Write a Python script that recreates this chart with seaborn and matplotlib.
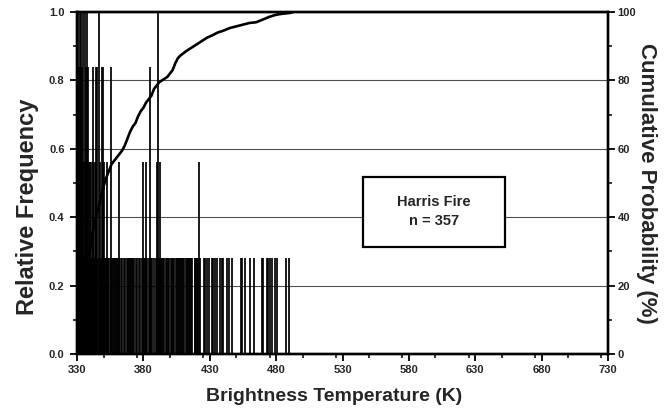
import numpy as np
import pandas as pd
import matplotlib
matplotlib.use("Agg")
import matplotlib.pyplot as plt
import seaborn as sns
from matplotlib.patches import Rectangle
from matplotlib.ticker import MultipleLocator, FormatStrFormatter

# ---------------- data ----------------
N_FIRES = 357

# temperatures (K) observed once (relative frequency 1/357)
single_temps = [
    330.6, 331.2, 332.0, 332.9, 333.5, 334.2, 335.0, 335.7, 336.5, 337.1, 337.9,
    338.6, 339.3, 340.1, 340.7, 341.4, 342.3, 342.9, 343.6, 344.5, 345.0,
    346.9, 347.6, 348.2, 349.0, 349.9, 350.6, 351.3, 352.1, 352.8, 353.5, 354.2,
    355.8, 356.4, 357.1, 357.9, 358.6, 359.3, 360.0, 360.8, 361.5, 363.3, 364.0,
    365.4, 366.0, 367.8, 368.5, 369.2, 370.0, 370.7, 371.4, 372.2, 372.9, 374.6,
    375.3, 376.8, 377.4, 378.9, 379.5, 380.3, 381.0, 381.7, 382.5, 384.4, 385.0,
    385.8, 386.6, 388.1, 389.6, 390.3, 391.2, 391.9, 392.7, 393.4, 394.1, 394.9,
    395.6, 397.1, 397.8, 398.5, 399.2, 400.9, 401.6, 402.4, 403.1, 404.6,
    405.3, 406.0, 406.8, 407.5, 408.3, 409.1, 409.8, 410.6, 412.2, 412.9, 413.7,
    414.4, 415.2, 416.0, 416.7, 418.5, 419.2, 420.0, 420.7, 421.5, 422.4, 425.9,
    426.6, 428.0, 429.3,
    431.5, 432.7, 434.0, 435.2, 437.7, 439.0, 440.2, 443.2, 444.7, 447.0, 453.3,
    454.0, 456.4, 460.3, 463.3, 469.1, 470.3, 472.9, 474.1, 475.4, 476.6, 479.1,
    480.4, 487.4, 489.9,
]
# temperatures observed twice
double_temps = [
    331.5, 332.6, 334.1, 335.3, 336.8, 337.8, 338.7, 339.8, 340.9, 342.1, 343.2,
    344.0, 347.3, 349.8, 350.3, 352.6, 361.8, 379.9, 382.0, 390.0, 392.5, 422.1,
]
# temperatures observed three times
triple_temps = [
    330.9, 332.4, 333.7, 336.4, 338.3, 341.7, 344.3, 345.1, 348.5, 349.6, 355.6,
    385.3,
]
# temperatures observed four or more times (clipped at the top of the axis)
tall_temps = [330.4, 331.9, 333.0, 334.5, 336.0, 337.5, 346.6, 391.0]
tall_counts = [5, 4, 5, 4, 4, 4, 4, 4]

# cumulative probability curve (K, %)
cdf_temps = [
    330.5, 332, 334, 336, 338, 340, 342, 344, 346, 348, 350, 352, 354, 356, 358,
    360, 362, 364, 366, 368, 370, 372, 374, 376, 378, 380, 382, 384, 386, 388,
    390, 392, 394, 396, 398, 400, 402, 404, 406, 408, 412, 416, 420, 424, 428,
    432, 436, 440, 445, 450, 455, 460, 465, 470, 475, 480, 485, 490, 493,
]
cdf_percent = [
    0.5, 4, 11, 19, 26, 31, 36, 39.5, 42.5, 46, 49, 51.5, 53.5, 55.5, 56.5,
    57.5, 58.5, 59.5, 61, 63, 65, 66.5, 67.5, 69.5, 71, 72, 73.5, 74.5, 75.5, 77.5,
    78.5, 79.5, 80, 80.5, 81, 82, 83, 85, 86.5, 87.3, 88.5, 89.5, 90.5, 91.5, 92.5,
    93.2, 94, 94.5, 95.3, 95.8, 96.3, 96.8, 97, 97.8, 98.6, 99.2, 99.5, 99.7, 100,
]

x_ticks = [330, 380, 430, 480, 530, 580, 630, 680, 730]

# ---------------- build tables ----------------
freq_df = pd.DataFrame({
    "temp": single_temps + double_temps + triple_temps + tall_temps,
    "count": [1] * len(single_temps) + [2] * len(double_temps)
             + [3] * len(triple_temps) + tall_counts,
})
freq_df["rel"] = freq_df["count"] / N_FIRES * 100.0
cdf_df = pd.DataFrame({"temp": cdf_temps, "cum": cdf_percent})

# ---------------- style ----------------
sns.set_theme(style="ticks")
plt.rcParams["font.family"] = ["Liberation Sans", "DejaVu Sans"]
plt.rcParams["font.weight"] = "bold"

fig = plt.figure(figsize=(6.64, 4.12), dpi=100)
ax = fig.add_axes([0.116, 0.1408, 0.7997, 0.8301])

ax.vlines(freq_df["temp"], 0, freq_df["rel"], color="black", lw=1.25, zorder=2)
ax.set_xlim(330, 730)
ax.set_ylim(0, 1.0)
ax.set_xticks(x_ticks)
ax.xaxis.set_minor_locator(MultipleLocator(25))
ax.yaxis.set_major_locator(MultipleLocator(0.2))
ax.yaxis.set_minor_locator(MultipleLocator(0.1))
ax.yaxis.set_major_formatter(FormatStrFormatter("%.1f"))
ax.yaxis.grid(True, which="major", color="#505050", lw=0.8, zorder=0)
ax.set_axisbelow(True)

ax2 = ax.twinx()
sns.lineplot(data=cdf_df, x="temp", y="cum", ax=ax2, color="black", lw=1.9,
             legend=False)
ax2.set_ylim(0, 100)
ax2.set_xlim(330, 730)
ax2.yaxis.set_major_locator(MultipleLocator(20))
ax2.yaxis.set_minor_locator(MultipleLocator(10))

for a in (ax, ax2):
    for s in a.spines.values():
        s.set_linewidth(1.7)
        s.set_color("black")
    a.tick_params(which="major", direction="out", length=5, width=1.3,
                  labelsize=8, color="black")
    a.tick_params(which="minor", direction="out", length=3, width=1.1,
                  color="black")
ax.tick_params(axis="y", pad=4)
ax.tick_params(axis="x", pad=3)
ax2.tick_params(axis="y", pad=2)
for lab in ax.get_xticklabels() + ax.get_yticklabels() + ax2.get_yticklabels():
    lab.set_fontweight("bold")

ax.set_xlabel("Brightness Temperature (K)", fontsize=14, fontweight="bold")
ax.xaxis.set_label_coords(0.485, -0.098)
ax.set_ylabel("Relative Frequency", fontsize=17, fontweight="bold")
ax.yaxis.set_label_coords(-0.072, 0.43)
ax2.set_ylabel("Cumulative Probability (%)", fontsize=16, fontweight="bold",
               rotation=270, va="center")
ax2.yaxis.set_label_coords(1.072, 0.5)

# annotation box
ax.add_patch(Rectangle((545.4, 0.313), 107.0, 0.2045, facecolor="white",
                       edgecolor="black", lw=1.6, zorder=3))
ax.text(599, 0.417, "Harris Fire\nn = 357", ha="center", va="center",
        fontsize=10.5, fontweight="bold", linespacing=1.45, zorder=4)

fig.savefig("out.png", dpi=100)
